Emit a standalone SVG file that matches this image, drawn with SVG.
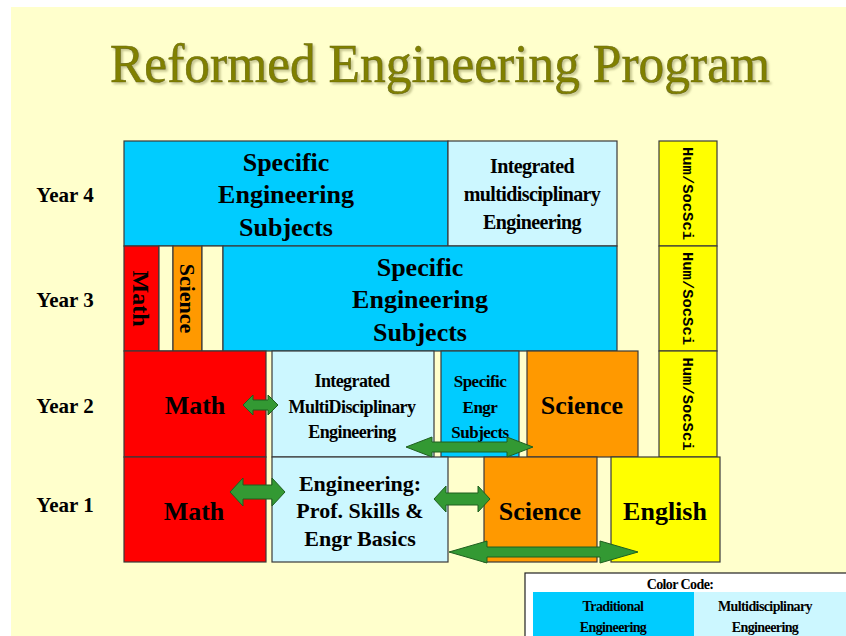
<svg xmlns="http://www.w3.org/2000/svg" width="846" height="636" viewBox="0 0 846 636">
<defs>
<filter id="sh" x="-5%" y="-20%" width="110%" height="150%">
<feDropShadow dx="2" dy="2" stdDeviation="0.8" flood-color="#b8b880" flood-opacity="0.8"/>
</filter>
</defs>
<style>
.bx{stroke:#3a3a3a;stroke-width:1.2}
.blue{fill:#00CCFF}
.lb{fill:#CCF7FF}
.red{fill:#FF0000}
.org{fill:#FF9900}
.yel{fill:#FFFF00}
.crm{fill:#FFFFCC}
.t{font-family:'Liberation Serif','Times New Roman',serif;font-weight:bold;fill:#000;text-anchor:middle}
.yr{font-family:'Liberation Serif','Times New Roman',serif;font-weight:bold;font-size:21px;fill:#000;text-anchor:middle}
.hum{font-family:'Liberation Mono','Courier New',monospace;font-weight:bold;font-size:15.5px;fill:#000;text-anchor:middle}
.arr{fill:#339933;stroke:#1f5f1f;stroke-width:1}
.ttl{font-family:'Liberation Serif','Times New Roman',serif;font-size:54px;fill:#808000;stroke:#6b6b00;stroke-width:0.6;text-anchor:middle}
</style>
<rect x="0" y="0" width="846" height="636" fill="#FFFFFF"/>
<rect x="11" y="7" width="835" height="629" fill="#FFFFCC"/>
<g id="title">
<text class="ttl" x="440" y="82" filter="url(#sh)" textLength="660" lengthAdjust="spacingAndGlyphs">Reformed Engineering Program</text>
</g>
<g id="year-labels">
<text class="yr" x="65" y="202">Year 4</text>
<text class="yr" x="65" y="307">Year 3</text>
<text class="yr" x="65" y="413">Year 2</text>
<text class="yr" x="65" y="512">Year 1</text>
</g>
<g id="y4-specific">
<rect class="bx blue" x="124" y="141" width="324" height="105"/>
<text class="t" font-size="26" x="286" y="171">Specific</text>
<text class="t" font-size="26" x="286" y="203">Engineering</text>
<text class="t" font-size="26" x="286" y="236">Subjects</text>
</g>
<g id="y4-integrated">
<rect class="bx lb" x="448" y="141" width="169" height="105"/>
<text class="t" font-size="20" x="532" y="173" letter-spacing="-0.6">Integrated</text>
<text class="t" font-size="20" x="532" y="201" letter-spacing="-0.6">multidisciplinary</text>
<text class="t" font-size="20" x="532" y="229" letter-spacing="-0.6">Engineering</text>
</g>
<g id="hum1">
<rect class="bx yel" x="659" y="141" width="58" height="105"/>
<text class="hum" transform="translate(683 193.5) rotate(90)">Hum/SocSci</text>
</g>
<g id="hum2">
<rect class="bx yel" x="659" y="246" width="58" height="105"/>
<text class="hum" transform="translate(683 298.5) rotate(90)">Hum/SocSci</text>
</g>
<g id="hum3">
<rect class="bx yel" x="659" y="351" width="58" height="106"/>
<text class="hum" transform="translate(683 404) rotate(90)">Hum/SocSci</text>
</g>
<g id="y3-math">
<rect class="bx red" x="124" y="246" width="35" height="105"/>
<text class="t" font-size="24" transform="translate(133 298.5) rotate(90)">Math</text>
</g>
<g id="y3-gap1"><rect class="bx crm" x="159" y="246" width="14" height="105"/></g>
<g id="y3-science">
<rect class="bx org" x="173" y="246" width="29" height="105"/>
<text class="t" font-size="22" transform="translate(180 298.5) rotate(90)">Science</text>
</g>
<g id="y3-gap2"><rect class="bx crm" x="202" y="246" width="21" height="105"/></g>
<g id="y3-specific">
<rect class="bx blue" x="223" y="246" width="394" height="105"/>
<text class="t" font-size="26" x="420" y="276">Specific</text>
<text class="t" font-size="26" x="420" y="308">Engineering</text>
<text class="t" font-size="26" x="420" y="341">Subjects</text>
</g>
<g id="y2-math">
<rect class="bx red" x="124" y="351" width="142" height="106"/>
<text class="t" font-size="26" x="195" y="414">Math</text>
</g>
<g id="y2-integrated">
<rect class="bx lb" x="272" y="351" width="162" height="106"/>
<text class="t" font-size="18" x="352" y="387" letter-spacing="-0.6">Integrated</text>
<text class="t" font-size="18" x="352" y="413" letter-spacing="-0.6">MultiDisciplinary</text>
<text class="t" font-size="18" x="352" y="438" letter-spacing="-0.6">Engineering</text>
</g>
<g id="y2-specific">
<rect class="bx blue" x="441" y="351" width="78" height="106"/>
<text class="t" font-size="17" x="480" y="387" fill="#101040" letter-spacing="-0.5">Specific</text>
<text class="t" font-size="17" x="480" y="413" fill="#101040" letter-spacing="-0.5">Engr</text>
<text class="t" font-size="17" x="480" y="438" fill="#101040" letter-spacing="-0.5">Subjects</text>
</g>
<g id="y2-science">
<rect class="bx org" x="527" y="351" width="111" height="106"/>
<text class="t" font-size="26" x="582" y="414">Science</text>
</g>
<g id="y1-math">
<rect class="bx red" x="124" y="457" width="142" height="105"/>
<text class="t" font-size="26" x="194" y="520">Math</text>
</g>
<g id="y1-engineering">
<rect class="bx lb" x="272" y="457" width="176" height="105"/>
<text class="t" font-size="22" x="360" y="491">Engineering:</text>
<text class="t" font-size="22" x="360" y="518">Prof. Skills &amp;</text>
<text class="t" font-size="22" x="360" y="546">Engr Basics</text>
</g>
<g id="y1-science">
<rect class="bx org" x="484" y="457" width="113" height="105"/>
<text class="t" font-size="26" x="540" y="520">Science</text>
</g>
<g id="y1-english">
<rect class="bx yel" x="611" y="457" width="109" height="105"/>
<text class="t" font-size="26" x="665" y="520">English</text>
</g>
<g id="connectors">
<polygon class="arr" points="243,405 253,395 253,400 268,400 268,395 278,405 268,415 268,410 253,410 253,415"/>
<polygon class="arr" points="406,447 432,437 432,442 507,442 507,437 533,447 507,457 507,452 432,452 432,457"/>
<polygon class="arr" points="230,492 243,478 243,485 272,485 272,478 285,492 272,506 272,499 243,499 243,506"/>
<polygon class="arr" points="434,499 446,486 446,493 478,493 478,486 490,499 478,512 478,505 446,505 446,512"/>
<polygon class="arr" points="449,552 487,541 487,547 600,547 600,541 638,552 600,563 600,557 487,557 487,563"/>
</g>
<g id="color-code">
<rect x="525" y="573" width="330" height="70" fill="#FFFFFF" stroke="#222" stroke-width="1.2"/>
<text class="t" font-size="14" x="680" y="589" letter-spacing="-0.6">Color Code:</text>
<rect x="533" y="592" width="161" height="50" fill="#00CCFF"/>
<rect x="694" y="592" width="152" height="50" fill="#CCF7FF"/>
<text class="t" font-size="14" x="613" y="611" letter-spacing="-0.6">Traditional</text>
<text class="t" font-size="14" x="613" y="632" letter-spacing="-0.6">Engineering</text>
<text class="t" font-size="14" x="765" y="611" letter-spacing="-0.6">Multidisciplinary</text>
<text class="t" font-size="14" x="765" y="632" letter-spacing="-0.6">Engineering</text>
</g>
</svg>
